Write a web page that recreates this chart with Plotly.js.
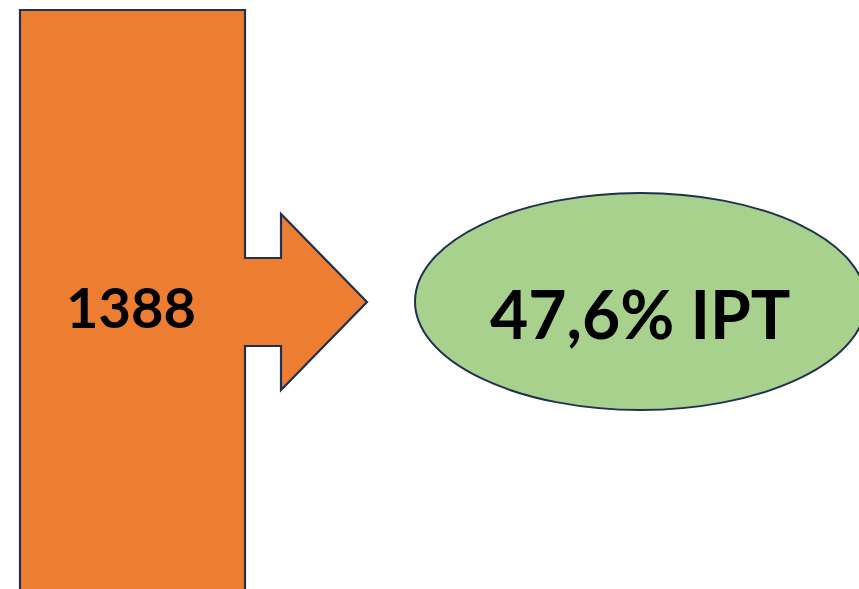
<!DOCTYPE html>
<html>
<head>
<meta charset="utf-8">
<script src="https://cdn.plot.ly/plotly-3.0.1.min.js"></script>
<style>html,body{margin:0;padding:0;background:#fff;}#chart{width:859px;height:589px;}</style>
</head>
<body>
<div id="chart"></div>
<script>
// Data
const countValue = 1388;
const percentValue = 47.6;
const percentSuffix = "% IPT";

// Geometry (diagram layout, pixel-like units)
const W = 859, H = 589;
const stroke = "#1F3050";
const orange = "#ED7D31";
const green = "#A9D18E";

const bar = {x0: 20, x1: 245, y0: 10, y1: 600};
const arrow = {notchX: 281, notchTop: 258, notchBot: 346, headTop: 214, headBot: 390, tipX: 367, tipY: 302};
const ell = {x0: 415, x1: 866, y0: 193, y1: 410};

const path = `M${bar.x0},${bar.y0} L${bar.x1},${bar.y0} L${bar.x1},${arrow.notchTop} L${arrow.notchX},${arrow.notchTop} L${arrow.notchX},${arrow.headTop} L${arrow.tipX},${arrow.tipY} L${arrow.notchX},${arrow.headBot} L${arrow.notchX},${arrow.notchBot} L${bar.x1},${arrow.notchBot} L${bar.x1},${bar.y1} L${bar.x0},${bar.y1} Z`;

const pctText = percentValue.toFixed(1).replace('.', ',') + percentSuffix;

const layout = {
  width: W, height: H,
  margin: {l: 0, r: 0, t: 0, b: 0},
  paper_bgcolor: "#ffffff", plot_bgcolor: "#ffffff",
  showlegend: false,
  xaxis: {range: [0, W], visible: false, fixedrange: true},
  yaxis: {range: [H, 0], visible: false, fixedrange: true},
  shapes: [
    {type: "path", path: path, fillcolor: orange, line: {color: stroke, width: 2.2}, layer: "below"},
    {type: "circle", x0: ell.x0, x1: ell.x1, y0: ell.y0, y1: ell.y1, fillcolor: green, line: {color: stroke, width: 2}, layer: "below"}
  ],
  annotations: [
    {x: 131, y: 306, xref: "x", yref: "y", text: "<b>" + countValue + "</b>", showarrow: false,
     font: {family: "Lato, 'Open Sans', sans-serif", size: 56, color: "#000"}, xanchor: "center", yanchor: "middle"},
    {x: 640, y: 313, xref: "x", yref: "y", text: "<b>" + pctText + "</b>", showarrow: false,
     font: {family: "Lato, 'Open Sans', sans-serif", size: 66, color: "#000"}, xanchor: "center", yanchor: "middle"}
  ]
};

Plotly.newPlot("chart", [{x: [], y: [], type: "scatter", hoverinfo: "skip"}], layout, {staticPlot: true, displayModeBar: false});
</script>
</body>
</html>
